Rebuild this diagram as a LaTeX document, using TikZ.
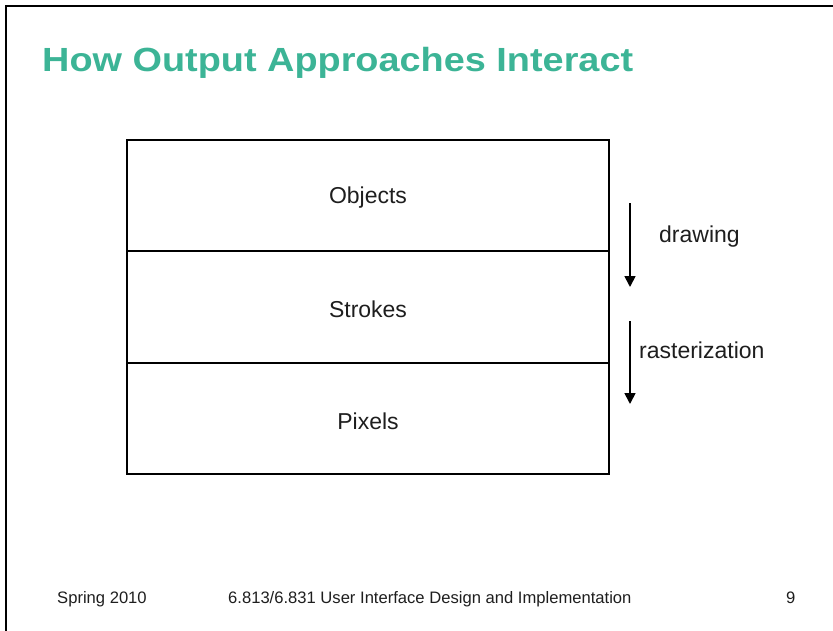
\documentclass[tikz,border=0pt]{standalone}
\usepackage{fontspec}
\setmainfont{Liberation Sans}
\usetikzlibrary{arrows.meta}
\definecolor{titlegreen}{RGB}{60,180,150}
\definecolor{txt}{RGB}{30,30,30}
\tikzset{
  layer/.style={draw=black, line width=1.8pt, minimum width=482pt, minimum height=111.3pt, inner sep=0pt, outer sep=0pt},
  flow/.style={line width=1.7pt, -{Triangle[length=11pt,width=11pt]}},
  lbl/.style={font=\fontsize{23}{26}\selectfont, text=txt},
  foot/.style={font=\fontsize{16.6}{19}\selectfont, text=txt, anchor=base west, inner sep=0pt}
}
\begin{document}
\begin{tikzpicture}[x=1pt,y=-1pt]
\useasboundingbox (0,0) rectangle (833,630);
\draw[line width=2pt] (6,640) -- (6,6) -- (840,6);
\node[anchor=base west, inner sep=0pt, text=titlegreen, font=\fontsize{33.5}{38}\selectfont\bfseries] (title) at (42,71) {\scalebox{1.13}[1]{How Output Approaches Interact}};
\node[layer, anchor=north west] (objects) at (127,140) {};
\node[layer, anchor=north] (strokes) at (objects.south) {};
\node[layer, anchor=north] (pixels) at (strokes.south) {};
\node[lbl] (tobj) at (368,198) {Objects};
\node[lbl] (tstr) at (368,309) {Strokes};
\node[lbl] (tpix) at (368,421) {Pixels};
\coordinate (a1s) at (630,203);
\coordinate (a1e) at (630,287);
\coordinate (a2s) at (630,321);
\coordinate (a2e) at (630,404);
\draw[flow] (a1s) -- (a1e);
\draw[flow] (a2s) -- (a2e);
\node[lbl, anchor=west, inner sep=0pt] (ldraw) at (659,237) {drawing};
\node[lbl, anchor=west, inner sep=0pt] (lrast) at (639,350) {rasterization};
\node[foot] (f1) at (57,603) {Spring 2010};
\node[foot] (f2) at (228,603) {6.813/6.831 User Interface Design and Implementation};
\node[foot] (f3) at (786,603) {9};
\end{tikzpicture}
\end{document}
